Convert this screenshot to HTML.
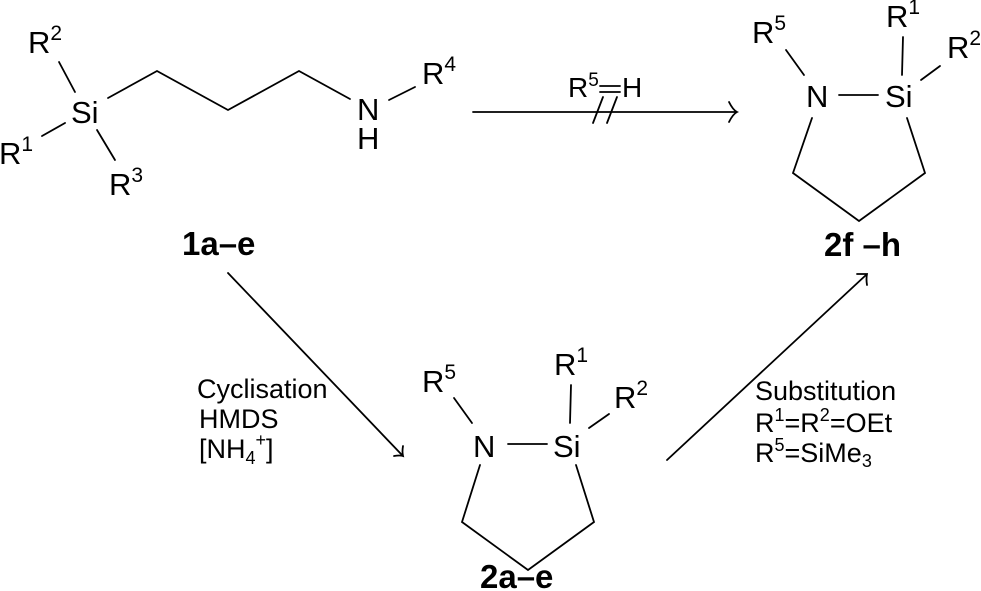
<!DOCTYPE html>
<html><head><meta charset="utf-8"><style>
html,body{margin:0;padding:0;background:#fff;}
svg{display:block;}
text{font-family:"Liberation Sans",sans-serif;fill:#000;}
.m{font-size:31px;}
.s{font-size:21px;}
.b{font-size:33px;font-weight:bold;}
.c{font-size:27px;}
.cs{font-size:18px;}
</style></head><body>
<svg width="981" height="591" viewBox="0 0 981 591" xmlns="http://www.w3.org/2000/svg">
<g stroke="#000" stroke-width="1.8" fill="none" stroke-linecap="round">
<line x1="59" y1="62" x2="75" y2="92"/>
<line x1="42" y1="136" x2="65" y2="123"/>
<line x1="97" y1="130" x2="115" y2="160"/>
<polyline points="108,98 157,71 228,110 299,71 350,99"/>
<line x1="389" y1="100" x2="415" y2="87"/>
<line x1="473" y1="112" x2="736" y2="112"/>
<path d="M729,102 Q733,110 737,112 Q733,114 729,122"/>
<line x1="600" y1="86" x2="620" y2="86"/>
<line x1="600" y1="92" x2="620" y2="92"/>
<line x1="593" y1="123" x2="603" y2="97"/>
<line x1="607" y1="123" x2="617" y2="97"/>
<line x1="786" y1="50" x2="804" y2="75"/>
<line x1="839" y1="95" x2="878" y2="95"/>
<line x1="903" y1="37" x2="902" y2="75"/>
<line x1="921" y1="80" x2="940" y2="66"/>
<polyline points="812,118 793,173 859,221 925,173 907,118"/>
<line x1="228" y1="273" x2="402" y2="455"/>
<path d="M394,456 Q400,455 403,456 Q402,452 403,446"/>
<line x1="454" y1="398" x2="472" y2="423"/>
<line x1="508" y1="444" x2="547" y2="444"/>
<line x1="571" y1="385" x2="570" y2="423"/>
<line x1="589" y1="428" x2="609" y2="414"/>
<polyline points="480,465 462,522 528,570 594,522 576,465"/>
<line x1="667" y1="460" x2="866" y2="275"/>
<path d="M857,274 Q863,274 867,274 Q866,279 867,285"/>
</g>
<text class="m" x="28" y="53">R<tspan class="s" dy="-13">2</tspan></text>
<text class="m" x="71" y="123">Si</text>
<text class="m" x="-1" y="164">R<tspan class="s" dy="-13">1</tspan></text>
<text class="m" x="109" y="195">R<tspan class="s" dy="-13">3</tspan></text>
<text class="m" x="357" y="120">N</text>
<text class="m" x="357" y="149">H</text>
<text class="m" x="422" y="84">R<tspan class="s" dy="-13">4</tspan></text>
<text class="b" x="182" y="255">1a–e</text>
<text x="568" y="97" style="font-size:28px">R<tspan dy="-11" style="font-size:19px">5</tspan></text>
<text x="622" y="97" style="font-size:28px">H</text>
<text class="m" x="752" y="43">R<tspan class="s" dy="-13">5</tspan></text>
<text class="m" x="806" y="107">N</text>
<text class="m" x="885" y="107">Si</text>
<text class="m" x="886" y="27">R<tspan class="s" dy="-13">1</tspan></text>
<text class="m" x="947" y="58">R<tspan class="s" dy="-13">2</tspan></text>
<text class="b" x="824" y="256">2f –h</text>
<text class="c" x="197" y="398">Cyclisation</text>
<text class="c" x="199" y="428">HMDS</text>
<text class="c" x="199" y="458">[NH<tspan class="cs" dy="6">4</tspan><tspan class="cs" dy="-18">+</tspan><tspan dy="12">]</tspan></text>
<text class="c" x="755" y="400">Substitution</text>
<text class="c" x="755" y="432">R<tspan class="cs" dy="-11">1</tspan><tspan dy="11">=R</tspan><tspan class="cs" dy="-11">2</tspan><tspan dy="11">=OEt</tspan></text>
<text class="c" x="755" y="462">R<tspan class="cs" dy="-11">5</tspan><tspan dy="11">=SiMe</tspan><tspan class="cs" dy="5">3</tspan></text>
<text class="m" x="422" y="392">R<tspan class="s" dy="-13">5</tspan></text>
<text class="m" x="473" y="457">N</text>
<text class="m" x="553" y="457">Si</text>
<text class="m" x="554" y="375">R<tspan class="s" dy="-13">1</tspan></text>
<text class="m" x="614" y="408">R<tspan class="s" dy="-13">2</tspan></text>
<text class="b" x="480" y="588">2a–e</text>
</svg>
</body></html>
